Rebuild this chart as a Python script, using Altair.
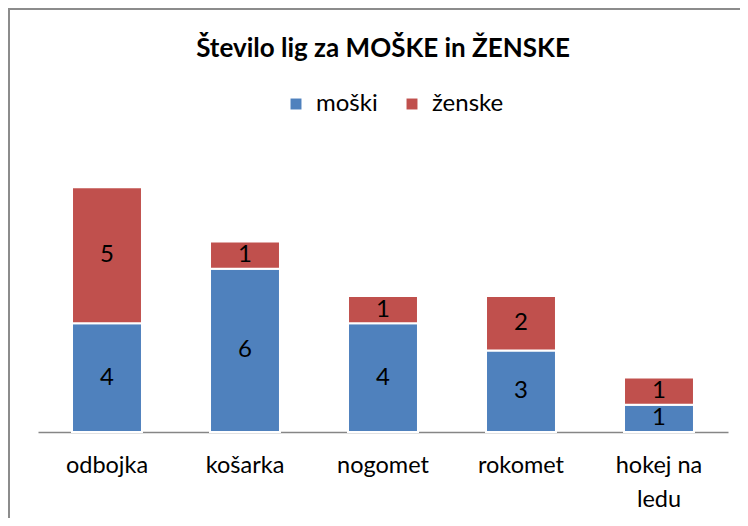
import altair as alt
import pandas as pd

sports = ["odbojka", "košarka", "nogomet", "rokomet", "hokej na ledu"]
moski = [4, 6, 4, 3, 1]
zenske = [5, 1, 1, 2, 1]
series = ["moški", "ženske"]
colors = ["#4F81BD", "#C0504D"]

rows = []
for i, s in enumerate(sports):
    rows.append({"sport": s, "serija": series[0], "vrednost": moski[i], "red": 0})
    rows.append({"sport": s, "serija": series[1], "vrednost": zenske[i], "red": 1})
df = pd.DataFrame(rows)

FONT = "Lato"

base = alt.Chart(df).transform_stack(
    stack="vrednost", groupby=["sport"], as_=["y0", "y1"],
    sort=[alt.SortField("red", order="ascending")]
).transform_calculate(mid="(datum.y0 + datum.y1) / 2")

xenc = alt.X("sport:N", sort=sports, title=None,
             scale=alt.Scale(paddingInner=0.493, paddingOuter=0.2465),
             axis=alt.Axis(labelAngle=0, ticks=False, domainColor="#868686",
                           domainWidth=1.5, labelFontSize=23.5, labelFont=FONT,
                           labelColor="#000000", labelPadding=21,
                           labelLineHeight=34,
                           labelExpr="datum.label == 'hokej na ledu' ? ['hokej na', 'ledu'] : datum.label"))

bars = base.mark_bar(stroke="white", strokeWidth=2).encode(
    x=xenc,
    y=alt.Y("y0:Q", scale=alt.Scale(domain=[0, 10]), axis=None),
    y2="y1:Q",
    color=alt.Color("serija:N", sort=series,
                    scale=alt.Scale(domain=series, range=colors),
                    legend=alt.Legend(title=None, orient="none", direction="horizontal",
                                      legendX=246, legendY=-68,
                                      symbolType="square", symbolSize=120,
                                      symbolStrokeWidth=0,
                                      labelFontSize=24, labelFont=FONT,
                                      labelColor="#000000", labelOffset=8,
                                      columnPadding=22)),
)

labels = base.mark_text(fontSize=24, font=FONT, color="#000000", baseline="middle").encode(
    x=alt.X("sport:N", sort=sports),
    y=alt.Y("mid:Q"),
    text="vrednost:Q",
)

border = alt.Chart(pd.DataFrame({"a": [0]})).mark_rect(
    fill="transparent", stroke="#8C8C8C", strokeWidth=2
).encode(x=alt.value(-29), x2=alt.value(720), y=alt.value(-151), y2=alt.value(420))

chart = alt.layer(border, bars, labels).properties(
    width=690, height=272,
    title=alt.TitleParams("Število lig za MOŠKE in ŽENSKE", fontSize=26, font=FONT,
                          fontWeight="bold", anchor="middle", color="#000000",
                          offset=0, dy=54),
    autosize=alt.AutoSizeParams(type="none"),
    padding={"left": 30, "top": 152, "right": 12, "bottom": 86},
).configure_view(stroke=None)

chart.save("out.html", embed_options={"renderer": "svg", "actions": False})
